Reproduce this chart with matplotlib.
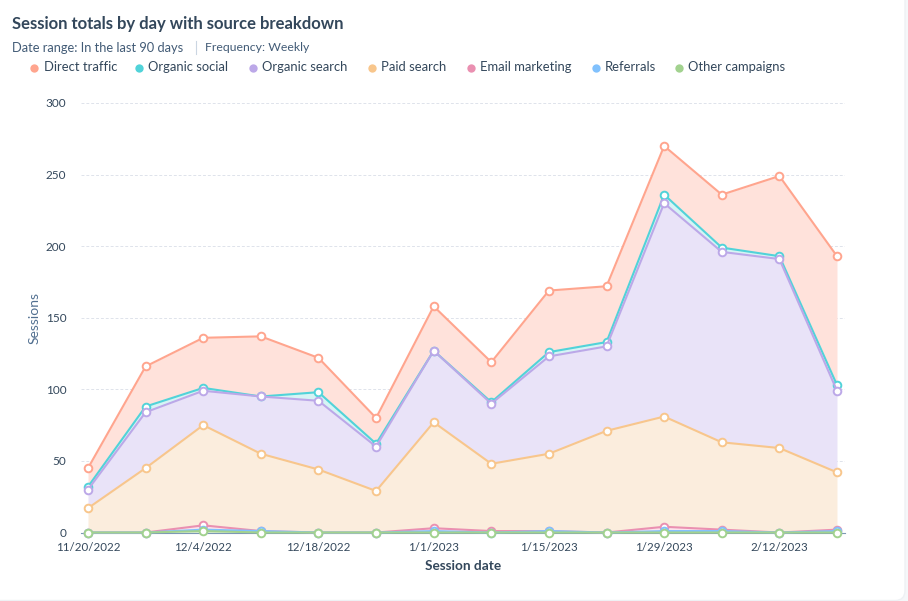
import matplotlib
matplotlib.use("Agg")
import matplotlib.pyplot as plt
import numpy as np
from matplotlib.patches import FancyBboxPatch

dates = ["11/20/2022", "11/27/2022", "12/4/2022", "12/11/2022", "12/18/2022", "12/25/2022", "1/1/2023",
         "1/8/2023", "1/15/2023", "1/22/2023", "1/29/2023", "2/5/2023", "2/12/2023", "2/19/2023"]

# sessions per source, each week
other_campaigns = [0, 0, 1, 0, 0, 0, 0, 0, 0, 0, 0, 0, 0, 0]
referrals = [0, 0, 1, 1, 0, 0, 1, 0, 1, 0, 1, 1, 0, 1]
email_marketing = [0, 0, 3, 0, 0, 0, 2, 1, 0, 0, 3, 1, 0, 1]
paid_search = [17, 45, 70, 54, 44, 29, 74, 47, 54, 71, 77, 61, 59, 40]
organic_search = [13, 39, 24, 40, 48, 31, 50, 42, 68, 59, 149, 133, 132, 57]
organic_social = [2, 4, 2, 0, 6, 2, 0, 1, 3, 3, 6, 3, 2, 4]
direct_traffic = [13, 28, 35, 42, 24, 18, 31, 28, 43, 39, 34, 37, 56, 90]

legend_names = ["Direct traffic", "Organic social", "Organic search", "Paid search",
                "Email marketing", "Referrals", "Other campaigns"]
y_ticks = [0, 50, 100, 150, 200, 250, 300]

plt.rcParams["font.family"] = ["Lato", "DejaVu Sans"]
W, H = 908, 601
DARK = "#33475b"
MID = "#425b76"

fig = plt.figure(figsize=(W / 100, H / 100), dpi=100, facecolor="#f5f7f9")

# white card behind everything
card = FancyBboxPatch((-12, 0.5), 917, 640, boxstyle="round,pad=0,rounding_size=10",
                      transform=None, facecolor="white", edgecolor="#eef1f4", lw=1, zorder=-5)
fig.add_artist(card)

ax = fig.add_axes([81 / W, 1 - 532.5 / H, (845 - 81) / W, (532.5 - 103) / H])
ax.patch.set_alpha(0)
x = np.arange(len(dates))
ax.set_xlim(-7 / 57.6, 13 + 8 / 57.6)
ax.set_ylim(0, 300)

# bottom of the stack first
layers = [
    (other_campaigns, "#a2d28f", "#e4f2de"),
    (referrals, "#81c1fd", "#dcedfe"),
    (email_marketing, "#ea90b1", "#fbe3ec"),
    (paid_search, "#f8c68c", "#fbeddd"),
    (organic_search, "#bca8e8", "#e9e3f8"),
    (organic_social, "#51d3d9", "#d6f4f5"),
    (direct_traffic, "#ffa58e", "#ffe2db"),
]

bottom = np.zeros(len(dates))
tops = []
for vals, line_c, fill_c in layers:
    top = bottom + np.array(vals)
    ax.fill_between(x, bottom, top, color=fill_c, lw=0, zorder=1)
    tops.append(top)
    bottom = top

ax.yaxis.grid(True, color="#dfe3eb", lw=0.7, ls=(0, (3, 2)), zorder=0)
ax.set_axisbelow(True)

# lines and markers from the top of the stack downward
for top, (vals, line_c, fill_c), z in zip(tops[::-1], layers[::-1], range(3, 10)):
    ax.plot(x, top, color=line_c, lw=1.5, zorder=z, clip_on=False, marker="o", ms=5.5,
            mfc="white", mec=line_c, mew=1.4)

for s in ["top", "right", "left"]:
    ax.spines[s].set_visible(False)
ax.spines["bottom"].set_color("#7c98b6")
ax.spines["bottom"].set_linewidth(0.8)
ax.spines["bottom"].set_zorder(2)

ax.set_xticks(x[::2])
ax.set_xticklabels(dates[::2])
ax.set_yticks(y_ticks)
ax.tick_params(axis="x", length=0, pad=7, labelsize=8.3, labelcolor=DARK)
ax.tick_params(axis="y", length=0, pad=10.5, labelsize=8.5, labelcolor=DARK)
ax.set_xlabel("Session date", fontsize=9.8, fontweight="bold", color=DARK, labelpad=5)
ax.set_ylabel("Sessions", fontsize=10, color="#516f90", labelpad=4)

# header
fig.text(12 / W, 1 - 24.5 / H, "Session totals by day with source breakdown", fontsize=12,
         fontweight="bold", color=DARK, va="center", ha="left")
fig.text(12 / W, 1 - 47.5 / H, "Date range: In the last 90 days", fontsize=9.3, color=MID, va="center")
fig.add_artist(plt.Line2D([195.5 / W, 195.5 / W], [1 - 54 / H, 1 - 41 / H], color="#cbd6e2", lw=0.8))
fig.text(205 / W, 1 - 47.5 / H, "Frequency: Weekly", fontsize=8.85, color=MID, va="center")

# legend row, same order as the stack from the top
legend_dots = [34, 139, 253, 372, 470.5, 596, 679]
legend_text = [43.5, 148, 262, 381, 480, 605, 688]
for name, dx, tx, (vals, line_c, fill_c) in zip(legend_names, legend_dots, legend_text, layers[::-1]):
    fig.add_artist(plt.Line2D([dx / W], [1 - 67.5 / H], marker="o", ms=6, mfc=line_c, mec="none", ls=""))
    fig.text(tx / W, 1 - 67 / H, name, fontsize=9.4, color=DARK, va="center")

fig.savefig("out.png", dpi=100, facecolor=fig.get_facecolor())
